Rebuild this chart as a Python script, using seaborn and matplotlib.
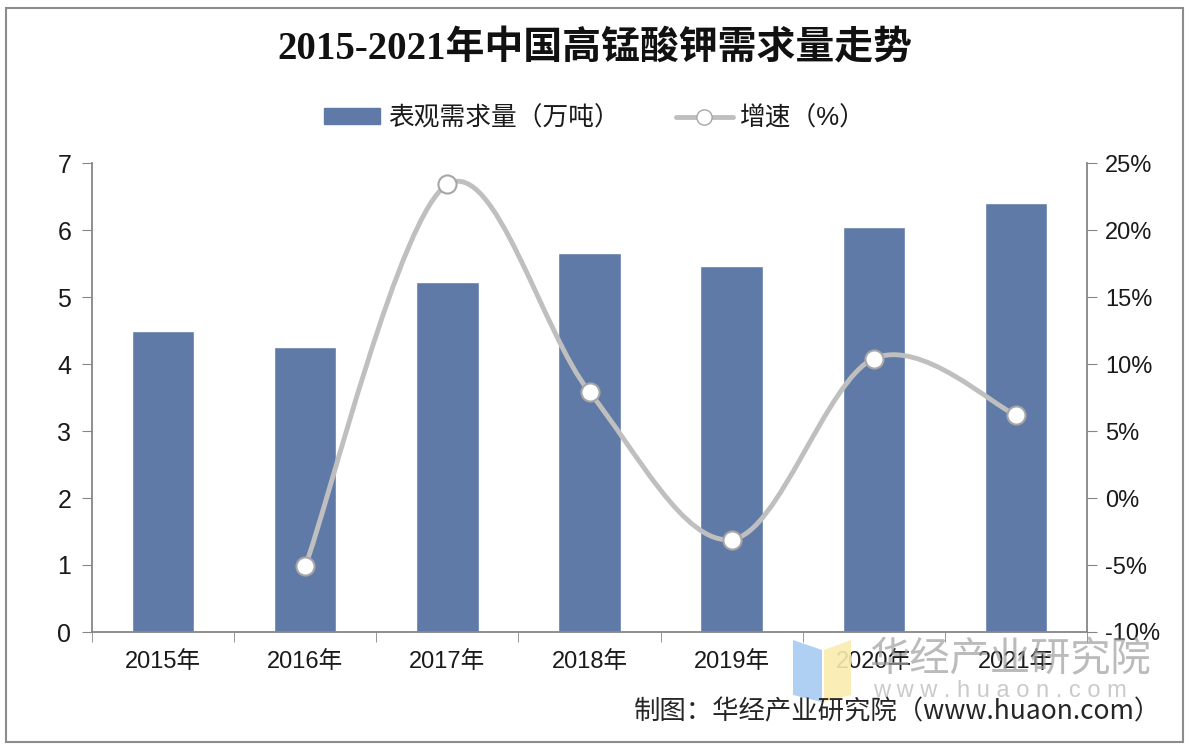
import seaborn as sns
import pandas as pd
import matplotlib.pyplot as plt
from matplotlib.patches import Patch, PathPatch, Polygon, Rectangle
from matplotlib.lines import Line2D
from matplotlib.path import Path
from matplotlib.ticker import FuncFormatter

years = ["2015年", "2016年", "2017年", "2018年", "2019年", "2020年", "2021年"]
demand = [4.49, 4.25, 5.23, 5.65, 5.47, 6.04, 6.40]
growth_years = ["2016年", "2017年", "2018年", "2019年", "2020年", "2021年"]
growth = [-5.1, 23.4, 7.9, -3.1, 10.4, 6.2]

title = "2015-2021年中国高锰酸钾需求量走势"
bar_label = "表观需求量（万吨）"
line_label = "增速（%）"
caption = "制图：华经产业研究院（www.huaon.com）"

sns.set_style("white")
plt.rcParams["font.family"] = ["Liberation Sans", "Noto Sans CJK SC", "DejaVu Sans"]

bar_color = "#5F7AA6"
line_color = "#BFBFBF"
spine_color = "#868686"

fig = plt.figure(figsize=(11.9, 7.48), dpi=100)
ax = fig.add_axes([92 / 1190, 1 - 632 / 748, (1087 - 92) / 1190, (632 - 163) / 748])

df = pd.DataFrame({"year": years, "demand": demand})
sns.barplot(data=df, x="year", y="demand", ax=ax, color=bar_color, width=0.44,
            saturation=1)
ax.set_xlim(-0.5, len(years) - 0.5)
ax.set_ylim(0, 7)
ax.set_yticks(range(0, 8))
ax.set_xlabel("")
ax.set_ylabel("")
ax.tick_params(axis="x", length=0, labelsize=17, pad=14, colors="#1a1a1a")
ax.set_xticks([i - 0.5 for i in range(len(years) + 1)], minor=True)
ax.tick_params(axis="x", which="minor", length=7, direction="out", color=spine_color,
               bottom=True)
ax.tick_params(axis="y", length=7, direction="out", color=spine_color, labelsize=18,
               pad=8, left=True, labelcolor="#1a1a1a")
for s in ["top", "right"]:
    ax.spines[s].set_visible(False)
for s in ["left", "bottom"]:
    ax.spines[s].set_color(spine_color)
    ax.spines[s].set_linewidth(1.3)

ax2 = ax.twinx()
ax2.set_ylim(-10, 25)
ax2.set_yticks(range(-10, 30, 5))
ax2.yaxis.set_major_formatter(FuncFormatter(lambda v, p: f"{int(v)}%"))
ax2.tick_params(axis="y", length=7, direction="out", color=spine_color, labelsize=17,
                pad=6, right=True, labelcolor="#1a1a1a")
for s in ["top", "left", "bottom"]:
    ax2.spines[s].set_visible(False)
ax2.spines["right"].set_color(spine_color)
ax2.spines["right"].set_linewidth(1.3)

# smoothed line like the Excel "smooth line" style
gx = [years.index(y) for y in growth_years]
pts = list(zip(gx, growth))
verts = [pts[0]]
codes = [Path.MOVETO]
n = len(pts)
for i in range(n - 1):
    p0 = pts[i - 1] if i > 0 else pts[i]
    p1 = pts[i]
    p2 = pts[i + 1]
    p3 = pts[i + 2] if i + 2 < n else pts[i + 1]
    c1 = (p1[0] + (p2[0] - p0[0]) / 6, p1[1] + (p2[1] - p0[1]) / 6)
    c2 = (p2[0] - (p3[0] - p1[0]) / 6, p2[1] - (p3[1] - p1[1]) / 6)
    verts += [c1, c2, p2]
    codes += [Path.CURVE4] * 3
ax2.add_patch(PathPatch(Path(verts, codes), facecolor="none", edgecolor=line_color,
                        lw=3.5, zorder=3))
gdf = pd.DataFrame({"x": gx, "growth": growth})
sns.scatterplot(data=gdf, x="x", y="growth", ax=ax2, s=170, color="white",
                edgecolor="#A6A6A6", linewidth=1.5, zorder=4)
ax2.set_xlabel("")
ax2.set_ylabel("")
ax2.set_xlim(-0.5, len(years) - 0.5)

fig.text(0.5, 1 - 50 / 748, title, ha="center", va="center", fontsize=28,
         fontweight="bold", family=["Liberation Serif", "Noto Sans CJK SC"],
         color="#111111")

handles = [
    Patch(facecolor=bar_color, edgecolor=bar_color, label=bar_label),
    Line2D([0], [0], color=line_color, lw=3.5, marker="o", markersize=11,
           markerfacecolor="white", markeredgecolor="#A6A6A6", label=line_label),
]
fig.legend(handles=handles, loc="center", bbox_to_anchor=(0.5, 1 - 118 / 748),
           ncol=2, frameon=False, fontsize=18.5, handlelength=2.2, handleheight=0.6,
           columnspacing=2.2, handletextpad=0.3, labelcolor="#1a1a1a")

# watermark
fig.add_artist(Polygon([(793 / 1190, 1 - 640 / 748), (822 / 1190, 1 - 650 / 748),
                        (822 / 1190, 1 - 702 / 748), (793 / 1190, 1 - 695 / 748)],
                       closed=True, transform=fig.transFigure, facecolor="#A8CBF2",
                       edgecolor="none", alpha=0.9))
fig.add_artist(Polygon([(824 / 1190, 1 - 650 / 748), (851 / 1190, 1 - 640 / 748),
                        (851 / 1190, 1 - 695 / 748), (824 / 1190, 1 - 702 / 748)],
                       closed=True, transform=fig.transFigure, facecolor="#FBEBAE",
                       edgecolor="none", alpha=0.9))
fig.text(1010 / 1190, 1 - 660 / 748, "华经产业研究院", ha="center", va="center",
         fontsize=29, color="#9E9E9E", alpha=0.7, family=["Noto Sans CJK SC"])
fig.text(1000 / 1190, 1 - 691 / 748, "w w w . h u a o n . c o m", ha="center",
         va="center", fontsize=17, color="#BDBDBD", alpha=0.8)

fig.text(897 / 1190, 1 - 712 / 748, caption, ha="center", va="center", fontsize=19,
         color="#262626", family=["Noto Sans CJK SC", "DejaVu Sans"])

fig.add_artist(Rectangle((6 / 1190, 6 / 748), 1177 / 1190, 734 / 748,
                         transform=fig.transFigure, facecolor="none",
                         edgecolor="#8C8C8C", lw=1.5))

fig.savefig("out.png", dpi=100)
